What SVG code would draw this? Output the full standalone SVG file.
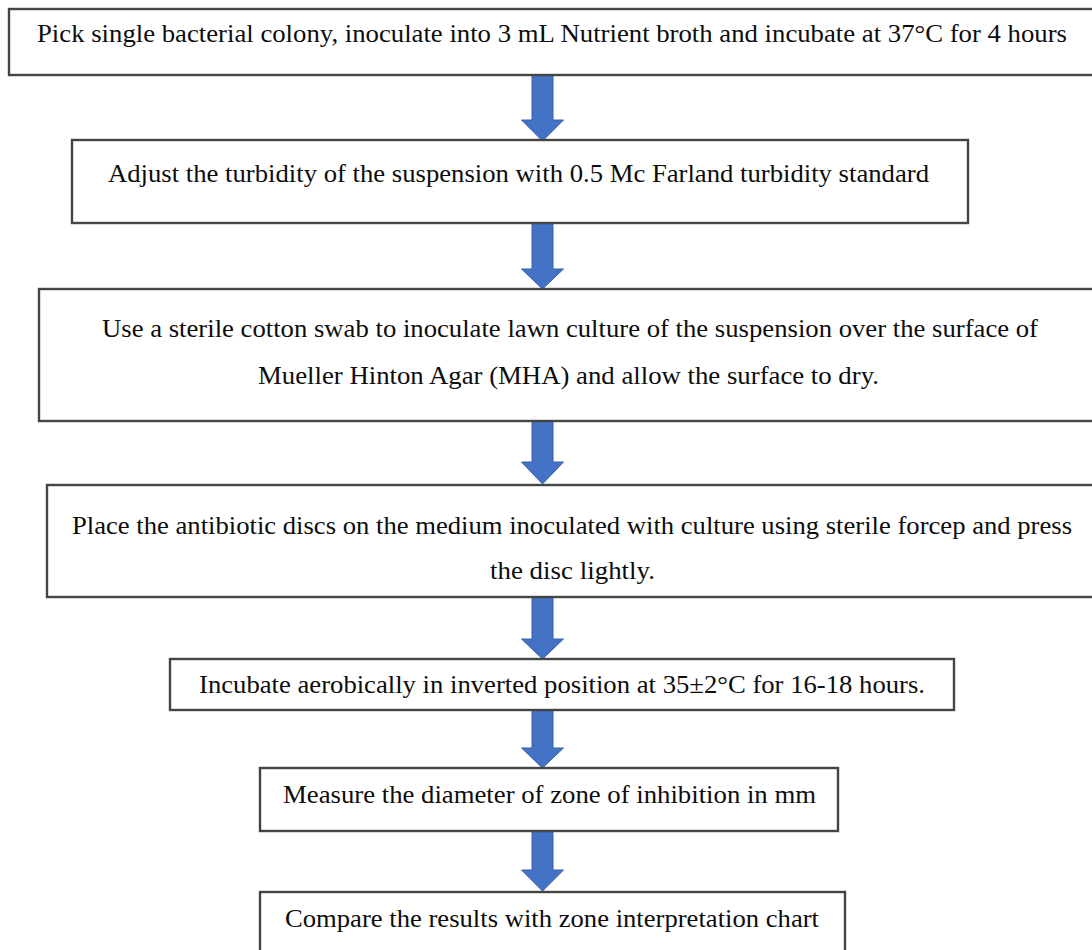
<svg xmlns="http://www.w3.org/2000/svg" width="1092" height="950" viewBox="0 0 1092 950">
<style>
.box{fill:#fff;stroke:#444;stroke-width:2.4}
.t{font-family:"Liberation Serif","Times New Roman",serif;font-size:26px;fill:#0d0d0d;text-anchor:middle}
.arr{fill:#4472C4;stroke:#3560AE;stroke-width:1}
</style>
<rect width="1092" height="950" fill="#fff"/>
<g id="connectors">
<polygon class="arr" points="532,75 553,75 553,120 563.5,120 542.5,141 521.5,120 532,120"/>
<polygon class="arr" points="532,223 553,223 553,269 563.5,269 542.5,289 521.5,269 532,269"/>
<polygon class="arr" points="532,421 553,421 553,462 563.5,462 542.5,484 521.5,462 532,462"/>
<polygon class="arr" points="532,597 553,597 553,639 563.5,639 542.5,659 521.5,639 532,639"/>
<polygon class="arr" points="532,710 553,710 553,748 563.5,748 542.5,768 521.5,748 532,748"/>
<polygon class="arr" points="532,831 553,831 553,870 563.5,870 542.5,891 521.5,870 532,870"/>
</g>
<g id="step1">
<rect class="box" x="9" y="9" width="1087" height="66"/>
<text class="t" x="552" y="42" textLength="1030" lengthAdjust="spacingAndGlyphs">Pick single bacterial colony, inoculate into 3 mL Nutrient broth and incubate at 37°C for 4 hours</text>
</g>
<g id="step2">
<rect class="box" x="72" y="140" width="896" height="83"/>
<text class="t" x="518.5" y="182" textLength="821" lengthAdjust="spacingAndGlyphs">Adjust the turbidity of the suspension with 0.5 Mc Farland turbidity standard</text>
</g>
<g id="step3">
<rect class="box" x="39" y="289" width="1062" height="132"/>
<text class="t" x="570" y="337" textLength="936" lengthAdjust="spacingAndGlyphs">Use a sterile cotton swab to inoculate lawn culture of the suspension over the surface of</text>
<text class="t" x="568.5" y="384" textLength="621" lengthAdjust="spacingAndGlyphs">Mueller Hinton Agar (MHA) and allow the surface to dry.</text>
</g>
<g id="step4">
<rect class="box" x="47" y="485" width="1054" height="112"/>
<text class="t" x="572" y="534" textLength="1000" lengthAdjust="spacingAndGlyphs">Place the antibiotic discs on the medium inoculated with culture using sterile forcep and press</text>
<text class="t" x="572.5" y="579" textLength="165" lengthAdjust="spacingAndGlyphs">the disc lightly.</text>
</g>
<g id="step5">
<rect class="box" x="170" y="659" width="784" height="51"/>
<text class="t" x="562" y="693" textLength="726" lengthAdjust="spacingAndGlyphs">Incubate aerobically in inverted position at 35±2°C for 16-18 hours.</text>
</g>
<g id="step6">
<rect class="box" x="260" y="768" width="578" height="63"/>
<text class="t" x="549.5" y="803" textLength="533" lengthAdjust="spacingAndGlyphs">Measure the diameter of zone of inhibition in mm</text>
</g>
<g id="step7">
<rect class="box" x="260" y="892" width="585" height="70"/>
<text class="t" x="552" y="927" textLength="534" lengthAdjust="spacingAndGlyphs">Compare the results with zone interpretation chart</text>
</g>
</svg>
